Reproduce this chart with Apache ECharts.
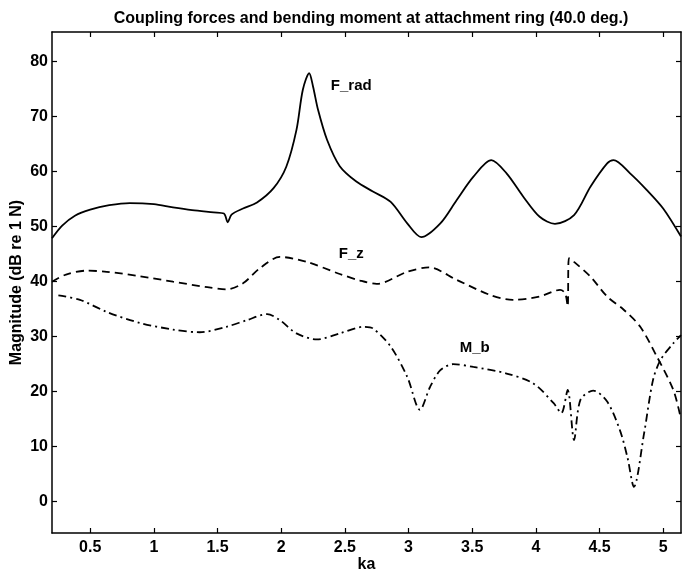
<!DOCTYPE html>
<html>
<head>
<meta charset="utf-8">
<script src="https://cdn.jsdelivr.net/npm/echarts@6/dist/echarts.min.js"></script>
<style>
  html, body { margin: 0; padding: 0; background: #fff; }
  #main { width: 686px; height: 577px; }
</style>
</head>
<body>
<div id="main"></div>
<script>
// tick values
var xTicks = [0.5, 1, 1.5, 2, 2.5, 3, 3.5, 4, 4.5, 5];
var yTicks = [0, 10, 20, 30, 40, 50, 60, 70, 80];

// F_rad (solid)
var fradKa = [0.2, 0.28, 0.38, 0.5, 0.65, 0.81, 1.0, 1.15, 1.3, 1.47, 1.55, 1.58, 1.61, 1.7, 1.81, 1.94, 2.04, 2.12, 2.17, 2.22, 2.25, 2.29, 2.36, 2.46, 2.59, 2.72, 2.86, 2.99, 3.1, 3.25, 3.38, 3.51, 3.65, 3.77, 3.9, 4.03, 4.15, 4.3, 4.43, 4.56, 4.61, 4.74, 4.87, 5.0, 5.14];
var fradDb = [47.9, 50.2, 52.0, 53.1, 53.9, 54.3, 54.1, 53.5, 53.0, 52.6, 52.4, 50.8, 52.2, 53.3, 54.4, 57.0, 60.9, 67.6, 74.9, 77.9, 75.5, 71.2, 65.8, 61.0, 58.2, 56.4, 54.5, 50.6, 48.1, 50.6, 54.9, 59.1, 62.1, 59.7, 55.5, 51.8, 50.5, 52.1, 57.3, 61.5, 62.1, 59.7, 56.7, 53.3, 48.2];

// F_z (dashed)
var fzKa = [0.2, 0.31, 0.47, 0.63, 0.89, 1.15, 1.42, 1.57, 1.7, 1.83, 1.99, 2.2, 2.46, 2.62, 2.75, 2.99, 3.16, 3.38, 3.64, 3.82, 4.03, 4.19, 4.23, 4.25, 4.26, 4.3, 4.43, 4.56, 4.69, 4.82, 4.95, 5.08, 5.14];
var fzDb = [40.0, 41.3, 42.0, 41.8, 41.0, 40.0, 39.0, 38.6, 39.7, 42.4, 44.5, 43.6, 41.4, 40.2, 39.6, 41.8, 42.6, 40.3, 37.6, 36.7, 37.3, 38.5, 37.9, 35.5, 44.3, 43.6, 40.9, 37.3, 34.9, 31.8, 26.4, 20.3, 15.0];

// M_b (dash-dot)
var mbKa = [0.25, 0.42, 0.63, 0.89, 1.15, 1.36, 1.57, 1.73, 1.89, 1.99, 2.12, 2.28, 2.46, 2.65, 2.72, 2.86, 2.99, 3.09, 3.17, 3.25, 3.35, 3.51, 3.77, 3.98, 4.14, 4.2, 4.25, 4.3, 4.35, 4.45, 4.56, 4.66, 4.72, 4.77, 4.85, 4.92, 4.98, 5.08, 5.14];
var mbDb = [37.5, 36.7, 34.5, 32.5, 31.3, 30.8, 31.8, 33.0, 34.1, 33.0, 30.6, 29.5, 30.6, 31.8, 31.5, 28.2, 22.7, 16.7, 20.9, 23.9, 25.0, 24.5, 23.3, 21.5, 17.9, 16.1, 20.3, 11.2, 18.5, 20.2, 18.2, 13.0, 8.0, 2.7, 12.4, 22.1, 25.8, 28.8, 30.3];

// text labels placed in data coordinates
var curveLabels = [
  { text: 'F_rad', ka: 2.55, db: 75.6 },
  { text: 'F_z', ka: 2.55, db: 45.0 },
  { text: 'M_b', ka: 3.52, db: 27.9 }
];

function pairs(xs, ys) {
  return xs.map(function (x, i) { return [x, ys[i]]; });
}

var font = 'Liberation Sans, Arial, sans-serif';
var xMin = 0.2, xMax = 5.14, yMin = -5.7, yMax = 85.4;

function xAxisCfg(pos, showLabel) {
  return {
    type: 'value', position: pos, min: xMin, max: xMax,
    name: showLabel ? 'ka' : '', nameLocation: 'middle', nameGap: 24, nameMoveOverlap: false,
    nameTextStyle: { color: '#000', fontSize: 16, fontWeight: 'bold', fontFamily: font },
    axisLine: { show: true, onZero: false, lineStyle: { color: '#000', width: 1.5 } },
    axisTick: { show: true, inside: true, length: 5, customValues: xTicks, lineStyle: { color: '#000', width: 1.2 } },
    axisLabel: { show: showLabel, customValues: xTicks, margin: 7, color: '#000', fontSize: 16, fontWeight: 'bold', fontFamily: font },
    splitLine: { show: false }
  };
}

function yAxisCfg(pos, showLabel) {
  return {
    type: 'value', position: pos, min: yMin, max: yMax,
    name: showLabel ? 'Magnitude (dB re 1 N)' : '', nameLocation: 'middle', nameGap: 27, nameMoveOverlap: false,
    nameTextStyle: { color: '#000', fontSize: 16, fontWeight: 'bold', fontFamily: font },
    axisLine: { show: true, onZero: false, lineStyle: { color: '#000', width: 1.5 } },
    axisTick: { show: true, inside: true, length: 5, customValues: yTicks, lineStyle: { color: '#000', width: 1.2 } },
    axisLabel: { show: showLabel, customValues: yTicks, margin: 4, color: '#000', fontSize: 16, fontWeight: 'bold', fontFamily: font },
    splitLine: { show: false }
  };
}

function lineSeries(name, data, dash) {
  return {
    name: name, type: 'line', xAxisIndex: 0, yAxisIndex: 0,
    data: data, showSymbol: false, smooth: 0.3, silent: true,
    lineStyle: { color: '#000', width: 1.8, type: dash }
  };
}

var chart = echarts.init(document.getElementById('main'));
chart.setOption({
  animation: false,
  backgroundColor: '#fff',
  title: {
    text: 'Coupling forces and bending moment at attachment ring (40.0 deg.)',
    left: 366, top: 6, textAlign: 'center',
    textStyle: { color: '#000', fontSize: 16, fontWeight: 'bold', fontFamily: font }
  },
  grid: { left: 52, right: 5, top: 32, bottom: 44, outerBoundsMode: 'none' },
  xAxis: [xAxisCfg('bottom', true), xAxisCfg('top', false)],
  yAxis: [yAxisCfg('left', true), yAxisCfg('right', false)],
  series: [
    lineSeries('F_rad', pairs(fradKa, fradDb), 'solid'),
    lineSeries('F_z', pairs(fzKa, fzDb), [8, 5]),
    lineSeries('M_b', pairs(mbKa, mbDb), [8, 4, 2, 4])
  ]
});

// put the curve names next to their lines
chart.setOption({
  graphic: curveLabels.map(function (l) {
    var p = chart.convertToPixel({ xAxisIndex: 0, yAxisIndex: 0 }, [l.ka, l.db]);
    return {
      type: 'text', x: p[0], y: p[1],
      style: { text: l.text, fill: '#000', font: 'bold 15px ' + font, align: 'center', verticalAlign: 'middle' }
    };
  })
});
</script>
</body>
</html>
